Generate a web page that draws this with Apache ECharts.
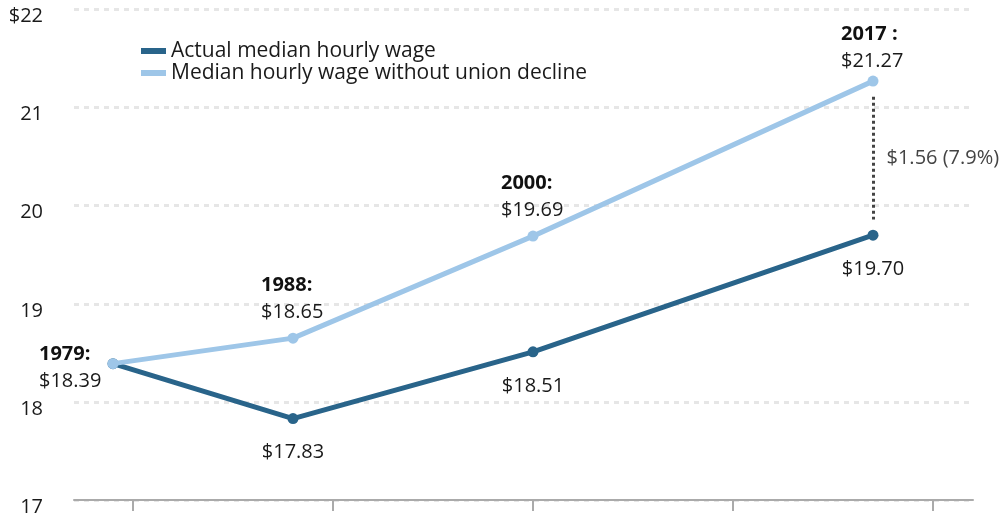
<!DOCTYPE html>
<html>
<head>
<meta charset="utf-8">
<script src="https://cdn.jsdelivr.net/npm/echarts@6/dist/echarts.min.js"></script>
<style>
  html, body { margin: 0; padding: 0; background: #fff; }
  #main { width: 1005px; height: 517px; }
</style>
</head>
<body>
<div id="main"></div>
<script>
var years = [1979, 1988, 2000, 2017]
var actualWage = [18.39, 17.83, 18.51, 19.70]
var noDeclineWage = [18.39, 18.65, 19.69, 21.27]
var xTicks = [1980, 1990, 2000, 2010, 2020]
var gapLabel = '$1.56 (7.9%)'

var font = 'Open Sans'
var fsize = 20
var darkBlue = '#29648a'
var lightBlue = '#9ec6e8'

function pairs(ys) {
  var out = []
  for (var i = 0; i < years.length; i++) out.push([years[i], ys[i]])
  return out
}

var lightData = pairs(noDeclineWage).map(function(p, i) {
  var item = { value: p }
  var lbl = { show: true }
  if (i == 0) lbl.offset = [-74, 44]
  if (i == 3) lbl.offset = [-32, 6]
  item.label = lbl
  return item
})
var darkData = pairs(actualWage).map(function(p, i) {
  return { value: p, label: { show: i > 0 } }
})

var myChart = echarts.init(document.getElementById('main'))
var option = {
  animation: false,
  textStyle: { fontFamily: font },
  grid: { left: 74, right: 32, top: 9.5, bottom: 16.3 },
  legend: {
    orient: 'vertical',
    left: 136,
    top: 35,
    icon: 'rect',
    itemWidth: 25,
    itemHeight: 6,
    itemGap: 0,
    textStyle: { fontFamily: font, fontSize: 21, color: '#1a1a1a', lineHeight: 22 },
    data: ['Actual median hourly wage', 'Median hourly wage without union decline']
  },
  xAxis: {
    type: 'value',
    min: 1977.05,
    max: 2022,
    splitLine: { show: false },
    axisLine: { show: true, lineStyle: { color: '#aaaaaa', width: 2 } },
    axisTick: { show: true, length: 11, customValues: xTicks, lineStyle: { color: '#aaaaaa', width: 2 } },
    axisLabel: { show: false }
  },
  yAxis: {
    type: 'value',
    min: 17,
    max: 22,
    interval: 1,
    axisLine: { show: false },
    axisTick: { show: false },
    axisLabel: {
      margin: 31,
      fontSize: fsize,
      color: '#1a1a1a',
      verticalAlign: 'top',
      lineHeight: 14,
      formatter: function(v) { return v == 22 ? '$22' : String(v) }
    },
    splitLine: { lineStyle: { color: '#e6e6e6', width: 3, type: [5, 5] } }
  },
  series: [
    {
      name: 'Actual median hourly wage',
      type: 'line',
      data: darkData,
      symbol: 'circle',
      symbolSize: 11,
      z: 3,
      lineStyle: { color: darkBlue, width: 5 },
      itemStyle: { color: darkBlue },
      label: {
        position: 'bottom',
        distance: 15,
        fontFamily: font,
        fontSize: fsize,
        color: '#1a1a1a',
        lineHeight: 27,
        formatter: function(p) { return '$' + p.value[1].toFixed(2) }
      },
      markLine: {
        silent: true,
        symbol: ['none', 'none'],
        label: { show: false },
        lineStyle: { color: '#444', width: 3, type: [3, 3] },
        data: [[{ coord: [2017, 21.11] }, { coord: [2017, 19.86] }]]
      },
      markPoint: {
        silent: true,
        symbol: 'circle',
        symbolSize: 1,
        itemStyle: { color: 'rgba(0,0,0,0)' },
        label: {
          show: true,
          position: 'right',
          distance: 13,
          fontFamily: font,
          fontSize: fsize,
          color: '#444',
          formatter: gapLabel
        },
        data: [{ coord: [2017, (21.27 + 19.70) / 2] }]
      }
    },
    {
      name: 'Median hourly wage without union decline',
      type: 'line',
      data: lightData,
      symbol: 'circle',
      symbolSize: 11,
      z: 4,
      lineStyle: { color: lightBlue, width: 5 },
      itemStyle: { color: lightBlue },
      label: {
        position: 'top',
        distance: 7,
        align: 'left',
        verticalAlign: 'bottom',
        offset: [-32, 0],
        formatter: function(p) {
          return '{y|' + p.value[0] + (p.value[0] == 2017 ? ' :' : ':') + '}\n{v|$' + p.value[1].toFixed(2) + '}'
        },
        rich: {
          y: { fontFamily: font, fontSize: fsize, fontWeight: 'bold', color: '#111', lineHeight: 27 },
          v: { fontFamily: font, fontSize: fsize, color: '#1a1a1a', lineHeight: 27 }
        }
      }
    }
  ]
}
myChart.setOption(option)
</script>
</body>
</html>
